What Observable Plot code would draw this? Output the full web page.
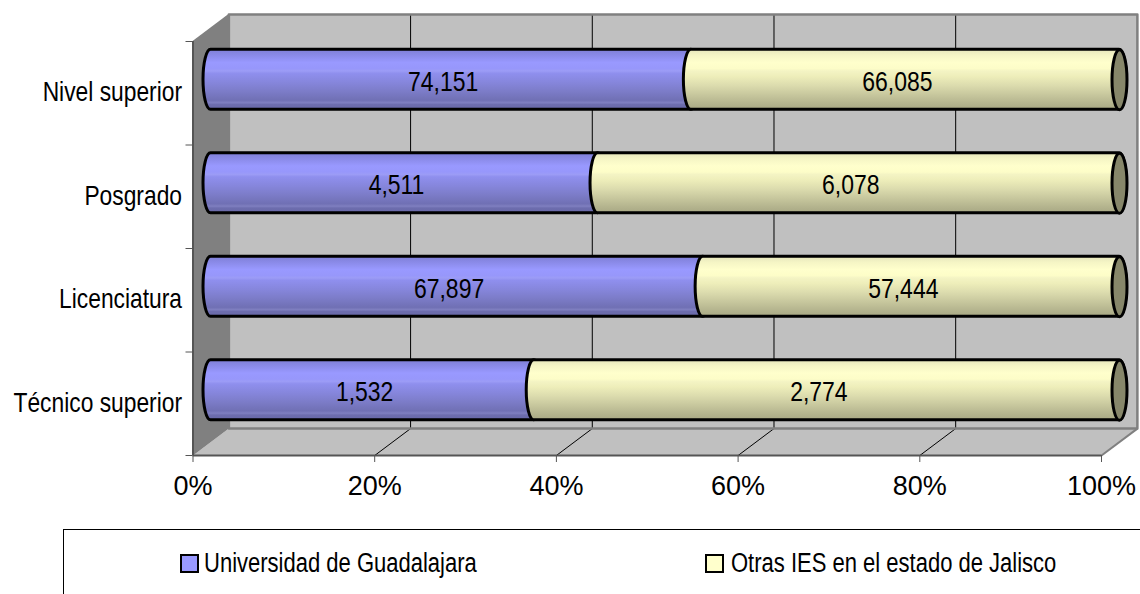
<!DOCTYPE html>
<html>
<head>
<meta charset="utf-8">
<script src="https://cdn.jsdelivr.net/npm/d3@7"></script>
<script src="https://cdn.jsdelivr.net/npm/@observablehq/plot@0.6"></script>
<style>
html,body{margin:0;padding:0;background:#fff;overflow:hidden}
#chart svg{display:block}
#legend{position:relative;height:65px;width:1140px;font-family:"Liberation Sans",sans-serif;font-size:27px;color:#000}
#legend .frame{position:absolute;left:63px;top:0;right:0;height:65px;border-top:1px solid #000;border-left:1px solid #000}
#legend .sw{position:absolute;top:25px;width:15px;height:15px;border:2.5px solid #000}
#legend .tx{position:absolute;top:19px;line-height:30px;white-space:nowrap;transform:scaleX(.815);transform-origin:0 50%}
</style>
</head>
<body>
<div id="chart"></div>
<div id="legend"></div>
<script>
const categories = ["Técnico superior", "Licenciatura", "Posgrado", "Nivel superior"];
const universidad = [1532, 67897, 4511, 74151];
const otras = [2774, 57444, 6078, 66085];
const seriesNames = ["Universidad de Guadalajara", "Otras IES en el estado de Jalisco"];
const xTicks = [0, 20, 40, 60, 80, 100];
const blueStops = [[0,"#7f7fd6"],[.1,"#8a8ae8"],[.22,"#9999ff"],[.32,"#9797fb"],[.36,"#9c9cf6"],[.4,"#8f8fee"],[.55,"#8686dc"],[.7,"#7c7cc8"],[.85,"#7070b4"],[.89,"#7f7fc0"],[.92,"#6d6dae"],[1,"#6868a6"]];
const yellowStops = [[0,"#e6e6bc"],[.1,"#f5f5c5"],[.22,"#ffffcc"],[.32,"#fdfdc8"],[.36,"#f4f4c4"],[.45,"#eeeeba"],[.6,"#dcdcae"],[.75,"#c8c89e"],[.9,"#b4b48e"],[1,"#a8a884"]];

const depthX = 3.95, depthY = 0.26;
const rows = categories.map((c, i) => {
  const share = universidad[i] / (universidad[i] + otras[i]) * 100;
  return {c, i, u: universidad[i], o: otras[i], share};
});
const y1 = d => d.i + 0.5 + depthY / 2 - 0.29;
const y2 = d => d.i + 0.5 + depthY / 2 + 0.29;
const mid = d => d.i + 0.5 + depthY / 2;

const defs = () => {
  const g = d3.create("svg:defs");
  for (const [id, stops] of [["gBlue", blueStops], ["gYellow", yellowStops]]) {
    const lg = g.append("linearGradient").attr("id", id).attr("x1", 0).attr("x2", 0).attr("y1", 0).attr("y2", 1);
    for (const [o, c] of stops) lg.append("stop").attr("offset", o).attr("stop-color", c);
  }
  return g.node();
};

const ellipseSymbol = {draw(ctx) {
  const rx = 7.5, ry = 30, kx = rx * 0.5523, ky = ry * 0.5523;
  ctx.moveTo(-rx, 0);
  ctx.bezierCurveTo(-rx, -ky, -kx, -ry, 0, -ry);
  ctx.bezierCurveTo(kx, -ry, rx, -ky, rx, 0);
  ctx.bezierCurveTo(rx, ky, kx, ry, 0, ry);
  ctx.bezierCurveTo(-kx, ry, -rx, ky, -rx, 0);
  ctx.closePath();
}};

const sans = '"Liberation Sans",sans-serif';
const wallPoly = [[depthX,depthY],[100+depthX,depthY],[100+depthX,4+depthY],[depthX,4+depthY]];
const sidePoly = [[0,0],[depthX,depthY],[depthX,4+depthY],[0,4]];
const floorPoly = [[0,0],[100,0],[100+depthX,depthY],[depthX,depthY]];
const px = d => d[0], py = d => d[1];

const plot = Plot.plot({
  width: 1140, height: 529,
  marginLeft: 192.5, marginRight: 39, marginTop: 41, marginBottom: 74,
  x: {domain: [0, 100], axis: null},
  y: {domain: [0, 4], axis: null},
  style: {background: "transparent"},
  marks: [
    defs,
    Plot.line(floorPoly, {x: px, y: py, fill: "#c0c0c0", stroke: "none", curve: "linear-closed"}),
    Plot.line(wallPoly, {x: px, y: py, fill: "#c0c0c0", stroke: "none", curve: "linear-closed"}),
    Plot.line(sidePoly, {x: px, y: py, fill: "#808080", stroke: "none", curve: "linear-closed"}),
    Plot.ruleX(xTicks.slice(1, -1), {x: d => d + depthX, y1: depthY, y2: 4 + depthY, stroke: "#000", strokeWidth: 1}),
    Plot.link(xTicks.slice(1, -1), {x1: d => d, x2: d => d + depthX, y1: 0, y2: depthY, stroke: "#000", strokeWidth: 1}),
    Plot.line(wallPoly, {x: px, y: py, stroke: "#808080", strokeWidth: 2.5, curve: "linear-closed"}),
    Plot.link([100], {x1: d => d, x2: d => d + depthX, y1: 0, y2: depthY, stroke: "#808080", strokeWidth: 2}),
    Plot.link([0], {x1: 0, x2: depthX, y1: 4, y2: 4 + depthY, stroke: "#808080", strokeWidth: 1.5}),
    Plot.ruleY([0], {x1: 0, x2: 100, stroke: "#555", strokeWidth: 2}),
    Plot.ruleX([0], {y1: 0, y2: 4, stroke: "#555", strokeWidth: 2}),
    Plot.rect(rows, {x1: 0, x2: d => d.share, y1, y2, dx: 18, fill: "url(#gBlue)", stroke: "#000", strokeWidth: 3, rx: 7.5, ry: 30, insetLeft: -7.5, insetRight: -7.5}),
    Plot.rect(rows, {x1: d => d.share, x2: 100, y1, y2, dx: 18, fill: "url(#gYellow)", stroke: "#000", strokeWidth: 3, rx: 7.5, ry: 30, insetLeft: -7.5, insetRight: -7.5}),
    Plot.dot(rows, {x: 100, y: mid, dx: 18, symbol: ellipseSymbol, r: 5, fill: "#87876a", stroke: "#000", strokeWidth: 3}),
    Plot.text(rows, {x: d => d.share / 2, y: mid, dx: 10, dy: 2, text: d => d3.format(",")(d.u), fontSize: 28, fontFamily: sans, fill: "#000", className: "narrow"}),
    Plot.text(rows, {x: d => (d.share + 100) / 2, y: mid, dx: 10, dy: 2, text: d => d3.format(",")(d.o), fontSize: 28, fontFamily: sans, fill: "#000", className: "narrow"}),
    Plot.axisY({ticks: [0, 1, 2, 3, 4], tickFormat: () => "", tickSize: 7, stroke: "#555", label: null}),
    Plot.axisY({ticks: categories.map((c, i) => i + 0.5), tickSize: 0, tickPadding: 11, dy: -1, tickFormat: d => categories[d - 0.5], fontSize: 27.8, fontFamily: sans, fill: "#000", label: null, className: "narrow"}),
    Plot.axisX({ticks: xTicks, tickSize: 7, tickPadding: 13, tickFormat: d => d + "%", fontSize: 27, fontFamily: sans, fill: "#000", stroke: "#555", label: null})
  ]
});
document.getElementById("chart").append(plot);

// The reference's type is a horizontally squeezed Arial: narrow the real text glyphs once laid out.
plot.querySelectorAll(".narrow text, text.narrow").forEach(t => {
  t.setAttribute("textLength", t.getComputedTextLength() * 0.82);
  t.setAttribute("lengthAdjust", "spacingAndGlyphs");
});

const lg = document.getElementById("legend");
lg.innerHTML = '<div class="frame"></div>' +
  [[180, 204, "#9999ff", seriesNames[0]], [705, 731, "#ffffcc", seriesNames[1]]].map(([a, b, c, t]) =>
    `<div class="sw" style="left:${a}px;background:${c}"></div><div class="tx" style="left:${b}px">${t}</div>`).join("");
</script>
</body>
</html>
